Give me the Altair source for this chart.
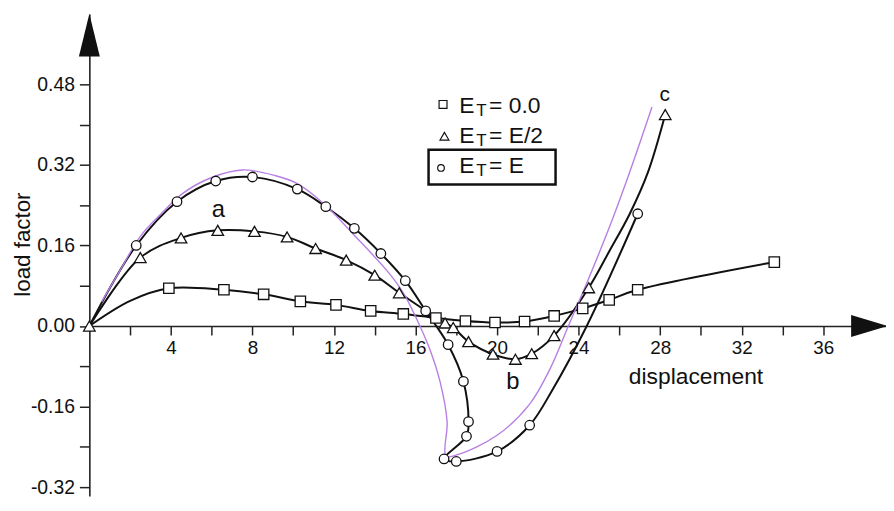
import altair as alt
import pandas as pd

# ---------------- data ----------------
# E_T = 0.0  (squares)
sq_x = [0, 2.0, 3.9, 6.6, 8.55, 10.35, 12.1, 13.8, 15.4, 17.0, 18.45, 19.9, 21.35, 22.8, 24.2, 25.5, 26.9, 33.6]
sq_y = [0, 0.050, 0.075, 0.072, 0.063, 0.049, 0.042, 0.030, 0.024, 0.016, 0.010, 0.007, 0.009, 0.020, 0.035, 0.052, 0.072, 0.127]
sq_m = [0, 0, 1, 1, 1, 1, 1, 1, 1, 1, 1, 1, 1, 1, 1, 1, 1, 1]

# E_T = E/2  (triangles)
tr_x = [0, 2.5, 4.5, 6.3, 8.1, 9.7, 11.1, 12.6, 14.0, 15.2, 17.45, 17.85, 18.6, 19.8, 20.9, 21.7, 22.8, 24.5, 25.5, 26.5, 27.4, 28.25]
tr_y = [0, 0.136, 0.175, 0.190, 0.188, 0.177, 0.154, 0.131, 0.101, 0.066, 0.006, -0.003, -0.031, -0.056, -0.066, -0.055, -0.019, 0.076, 0.148, 0.222, 0.305, 0.420]
tr_m = [1, 1, 1, 1, 1, 1, 1, 1, 1, 1, 1, 1, 1, 1, 1, 1, 1, 1, 0, 0, 0, 1]

# E_T = E  (circles)
ci_x = [0, 2.3, 4.3, 6.2, 8.0, 10.2, 11.6, 13.0, 14.3, 15.5, 16.5, 17.6, 18.35, 18.6, 18.5, 17.4, 18.0, 20.0, 21.6, 22.7, 24.4, 26.9]
ci_y = [0, 0.160, 0.247, 0.288, 0.296, 0.272, 0.237, 0.194, 0.144, 0.090, 0.030, -0.037, -0.110, -0.190, -0.219, -0.264, -0.269, -0.249, -0.197, -0.128, 0.0, 0.223]
ci_m = [0, 1, 1, 1, 1, 1, 1, 1, 1, 1, 1, 1, 1, 1, 1, 1, 1, 1, 1, 0, 0, 1]

# reference (purple) curve
pu_x = [0.6, 1.5, 2.5, 3.5, 4.6, 6.0, 7.5, 9.1, 10.2, 11.5, 13.1, 14.7, 15.4, 16.0, 16.7, 17.2, 17.55, 17.5, 18.1, 20.0, 21.6, 22.6, 23.5, 24.5, 25.5, 26.5, 27.6]
pu_y = [0.048, 0.110, 0.178, 0.222, 0.264, 0.295, 0.310, 0.299, 0.283, 0.243, 0.176, 0.105, 0.066, 0.019, -0.046, -0.110, -0.190, -0.258, -0.255, -0.217, -0.155, -0.085, 0.0, 0.095, 0.195, 0.305, 0.435]

x_ticks = list(range(2, 37, 2))
y_ticks = [round(k * 0.08, 2) for k in range(-4, 7)]

legend_labels = ["= 0.0", "= E/2", "= E"]
curve_letters = ["a", "b", "c"]

# ---------------- tables ----------------
rows = []
for name, xs_, ys_, ms_ in [("sq", sq_x, sq_y, sq_m), ("tr", tr_x, tr_y, tr_m), ("ci", ci_x, ci_y, ci_m)]:
    for i, (a, b, m) in enumerate(zip(xs_, ys_, ms_)):
        rows.append({"series": name, "order": i, "x": a, "y": b, "marker": m})
df = pd.DataFrame(rows)
pu = pd.DataFrame({"x": pu_x, "y": pu_y, "order": list(range(len(pu_x)))})

XMAX = 39.08
YMIN, YMAX = -0.3377, 0.6199
W, H = 803, 486
FONT = "Liberation Sans"
INK = "#111111"

xs = alt.Scale(domain=[0, XMAX], nice=False, zero=False)
ys = alt.Scale(domain=[YMIN, YMAX], nice=False, zero=False)

x_axis = alt.Axis(
    values=x_ticks, grid=False, offset=-171.4,
    labelExpr="datum.value % 4 == 0 ? datum.label : ''",
    labelFont=FONT, labelFontSize=19, labelColor=INK, labelPadding=4,
    labelOverlap=False, labelFlush=False,
    tickSize=9, tickWidth=1.5, tickColor="#222222",
    domainWidth=1.6, domainColor="#222222",
    title="displacement", titleFont=FONT, titleFontSize=23, titleFontWeight="normal",
    titleColor=INK, titleX=611, titleY=58, titleAlign="center", titleBaseline="alphabetic",
)
y_axis = alt.Axis(
    values=y_ticks, grid=False,
    labelExpr="abs(round(datum.value*100)) % 16 == 0 ? (datum.value < 0 ? '-' : '') + format(abs(datum.value), '.2f') : ''",
    labelFont=FONT, labelFontSize=19.5, labelColor=INK, labelPadding=5,
    labelOverlap=False, labelFlush=False,
    tickSize=10, tickWidth=1.5, tickColor="#222222",
    domainWidth=1.6, domainColor="#222222",
    title="load factor", titleFont=FONT, titleFontSize=22.5, titleFontWeight="normal",
    titleColor=INK, titleAngle=270, titleX=-60, titleY=232, titleAlign="center",
    titleBaseline="alphabetic",
)

X = alt.X("x:Q", scale=xs, axis=x_axis)
Y = alt.Y("y:Q", scale=ys, axis=y_axis)

lines = alt.Chart(df).mark_line(interpolate="catmull-rom", color=INK, strokeWidth=2).encode(
    x=X, y=Y, detail="series:N", order="order:Q")

purple = alt.Chart(pu).mark_line(interpolate="catmull-rom", color="#b77fe3", strokeWidth=1.4).encode(
    x=X, y=Y, order="order:Q")

def markers(series, shape, size):
    return alt.Chart(df).transform_filter(
        f"datum.series == '{series}' && datum.marker == 1"
    ).mark_point(shape=shape, size=size, filled=True, fill="white", stroke=INK,
                 strokeWidth=1.3, opacity=1).encode(x=X, y=Y)

pts_sq = markers("sq", "square", 110)
pts_tr = markers("tr", "triangle-up", 135)
pts_ci = markers("ci", "circle", 92)

# arrow heads at the ends of the axes
arrows = pd.DataFrame({
    "x": [0, 38.27], "y": [0.5776, 0],
    "shape": ["M0,-1L0.49,1L-0.49,1Z", "M1,0L-1,-0.6L-1,0.6Z"],
    "size": [1849, 1369],
})
arrow_marks = alt.Chart(arrows).mark_point(filled=True, color=INK, opacity=1).encode(
    x=X, y=Y,
    shape=alt.Shape("shape:N", scale=None),
    size=alt.Size("size:Q", scale=None),
)

# legend
leg = pd.DataFrame({
    "sx": [17.35, 17.42, 17.25], "sy": [0.440, 0.377, 0.314],
    "shape": ["square", "triangle-up", "circle"], "size": [64, 80, 45],
    "ex": [18.15] * 3, "ey": [0.4227, 0.3637, 0.3044],
    "tx": [18.98] * 3, "ty": [0.4168, 0.3578, 0.2987],
    "rx": [19.61] * 3, "label": legend_labels,
})
leg_sym = alt.Chart(leg).mark_point(filled=True, fill="white", stroke=INK, strokeWidth=1.2, opacity=1).encode(
    x=alt.X("sx:Q", scale=xs, axis=x_axis), y=alt.Y("sy:Q", scale=ys, axis=y_axis),
    shape=alt.Shape("shape:N", scale=None), size=alt.Size("size:Q", scale=None))
leg_E = alt.Chart(leg).mark_text(text="E", align="left", baseline="alphabetic", font=FONT, fontSize=23, color=INK).encode(
    x=alt.X("ex:Q", scale=xs, axis=x_axis), y=alt.Y("ey:Q", scale=ys, axis=y_axis))
leg_T = alt.Chart(leg).mark_text(text="T", align="left", baseline="alphabetic", font=FONT, fontSize=17, color=INK).encode(
    x=alt.X("tx:Q", scale=xs, axis=x_axis), y=alt.Y("ty:Q", scale=ys, axis=y_axis))
leg_R = alt.Chart(leg).mark_text(align="left", baseline="alphabetic", font=FONT, fontSize=23, color=INK).encode(
    x=alt.X("rx:Q", scale=xs, axis=x_axis), y=alt.Y("ey:Q", scale=ys, axis=y_axis), text="label:N")

box = pd.DataFrame({"x": [16.64], "x2": [22.87], "y": [0.350], "y2": [0.281]})
box_mark = alt.Chart(box).mark_rect(fillOpacity=0, stroke=INK, strokeWidth=2.5).encode(
    x=X, x2="x2:Q", y=Y, y2="y2:Q")

letters = pd.DataFrame({"x": [6.33, 20.78, 28.22], "y": [0.2166, -0.125, 0.446],
                        "t": curve_letters, "fs": [24, 24, 21]})
letter_marks = alt.Chart(letters).mark_text(align="center", baseline="alphabetic", font=FONT, color=INK).encode(
    x=X, y=Y, text="t:N", size=alt.Size("fs:Q", scale=None))

chart = alt.layer(
    lines, purple, pts_sq, pts_tr, pts_ci, arrow_marks,
    leg_sym, leg_E, leg_T, leg_R, box_mark, letter_marks,
).properties(
    width=W, height=H,
    autosize=alt.AutoSizeParams(type="none"),
    padding={"left": 82, "top": 4, "right": 0, "bottom": 0},
    background="white",
).configure_view(stroke=None)

chart.save("out.html", embed_options={"renderer": "svg", "actions": False})
